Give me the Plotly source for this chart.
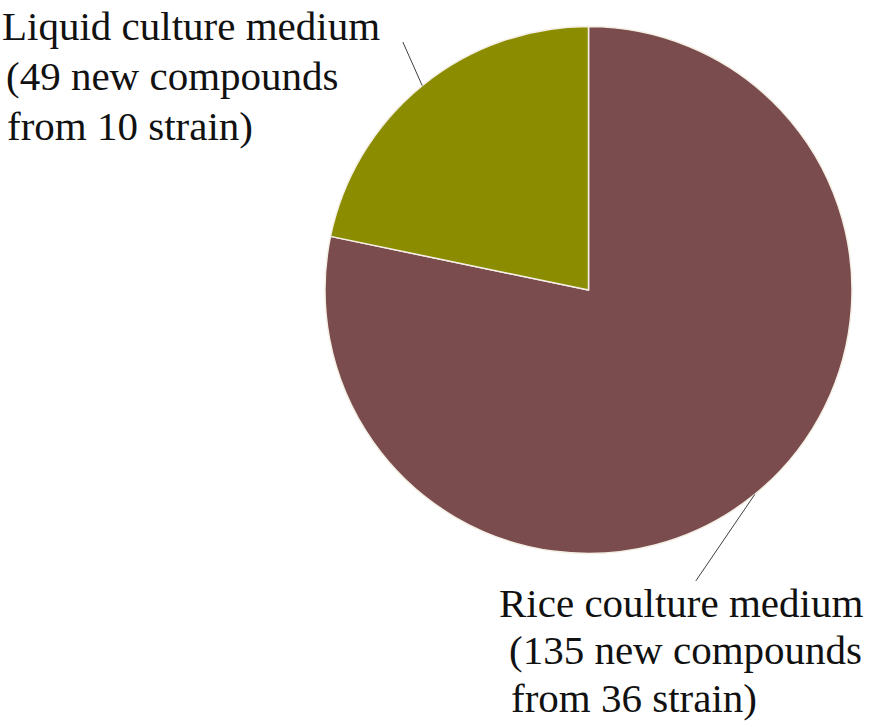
import math
import plotly.graph_objects as go

# Data
labels = ["Rice coulture medium", "Liquid culture medium"]
strains = [36, 10]
compounds = [135, 49]
colors = ["#7B4C4D", "#8C8C00"]

liquid_lines = [
    "Liquid culture medium",
    f"({compounds[1]} new compounds",
    f"from {strains[1]} strain)",
]
rice_lines = [
    "Rice coulture medium",
    f"({compounds[0]} new compounds",
    f"from {strains[0]} strain)",
]

W, H = 886, 727
cx_px, cy_px, r_px = 588.5, 290, 263.5

dom_x = [(cx_px - r_px) / W, (cx_px + r_px) / W]
dom_y = [(H - cy_px - r_px) / H, (H - cy_px + r_px) / H]

fig = go.Figure(go.Pie(
    labels=labels,
    values=strains,
    sort=False,
    direction="clockwise",
    rotation=0,
    marker=dict(colors=colors, line=dict(color="#F5F0E6", width=1.5)),
    textinfo="none",
    hoverinfo="label+value",
    domain=dict(x=dom_x, y=dom_y),
    showlegend=False,
))

# leader line tips at slice mid-angles on the rim
total = sum(strains)
cum = 0
tips = []
for v in strains:
    mid = (cum + v / 2) / total * 2 * math.pi
    cum += v
    px = cx_px + r_px * math.sin(mid)
    py = cy_px - r_px * math.cos(mid)
    tips.append((px / W, 1 - py / H))

family = "Liberation Serif, Times New Roman, serif"

annotations = [
    # Rice leader line
    dict(x=tips[0][0], y=tips[0][1], xref="paper", yref="paper", text="",
         showarrow=True, arrowhead=0, arrowwidth=1, arrowcolor="#404040",
         ax=-60, ay=88),
    # Liquid leader line
    dict(x=tips[1][0], y=tips[1][1], xref="paper", yref="paper", text="",
         showarrow=True, arrowhead=0, arrowwidth=1, arrowcolor="#404040",
         ax=-20, ay=-45),
]


def add_lines(lines, lefts, baselines, fs):
    for txt, lx, bl in zip(lines, lefts, baselines):
        top = bl - 2.5 - 0.891 * fs
        annotations.append(dict(
            x=lx / W, y=1 - top / H, xref="paper", yref="paper",
            xanchor="left", yanchor="top", align="left", showarrow=False,
            font=dict(family=family, size=fs, color="#111111"), text=txt))


add_lines(liquid_lines, [0, 4, 5], [40, 90, 140], 41)
add_lines(rice_lines, [497, 507, 509], [617, 664, 712], 41)

fig.update_layout(
    width=W, height=H,
    margin=dict(l=0, r=0, t=0, b=0),
    paper_bgcolor="white",
    plot_bgcolor="white",
    annotations=annotations,
)

fig.write_html("out.html", config={"displayModeBar": False},
               post_script="document.body.style.margin='0px';")
